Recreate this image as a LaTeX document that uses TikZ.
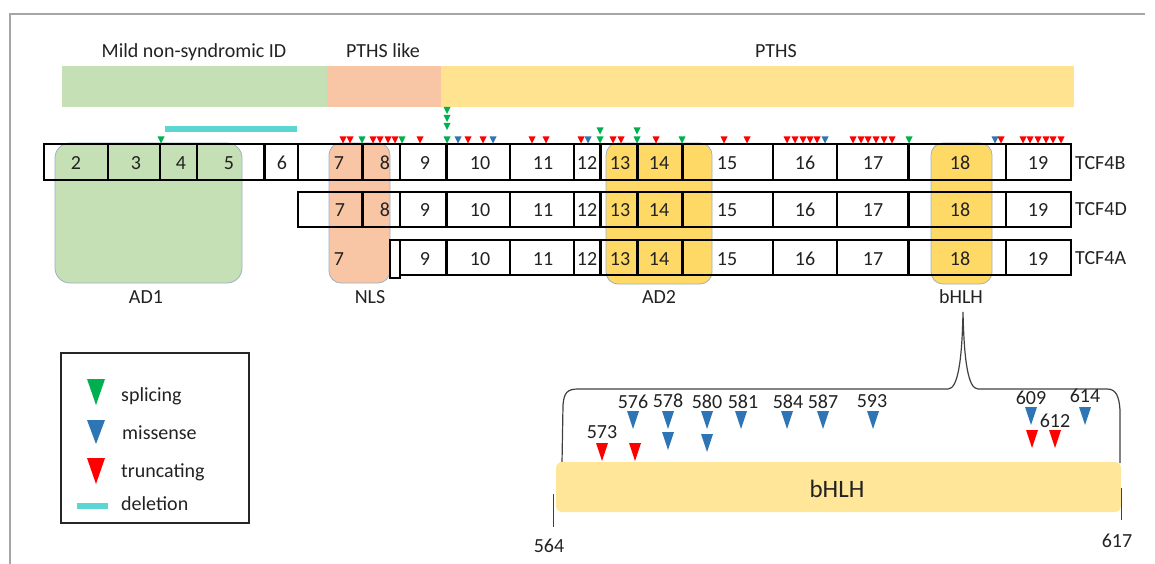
\documentclass[tikz,border=0pt]{standalone}
\usepackage{fontspec}
\setmainfont{Carlito}
\definecolor{txt}{HTML}{222222}
\definecolor{bargreen}{HTML}{C5E0B4}
\definecolor{barsalmon}{HTML}{F8C6A5}
\definecolor{baryellow}{HTML}{FFE391}
\definecolor{domgold}{HTML}{FFD966}
\definecolor{domborder}{HTML}{9DB0C4}
\definecolor{hlhbar}{HTML}{FFE699}
\definecolor{delcyan}{HTML}{5CD6D3}
\definecolor{mkred}{HTML}{FF0000}
\definecolor{mkblue}{HTML}{2E75B6}
\definecolor{mkgreen}{HTML}{00B050}
\definecolor{framecol}{HTML}{A6A6A6}
\definecolor{bracecol}{HTML}{404040}
\tikzset{
  lbl/.style={font=\fontsize{20}{24}\selectfont, inner sep=0pt, anchor=base, text=txt},
  lblw/.style={lbl, anchor=base west},
  exonline/.style={line width=1.4pt, draw=black},
  thickdiv/.style={line width=3pt, draw=black},
  dombox/.style={rounded corners=12pt, draw=domborder, line width=0.8pt},
}
\newcommand\smk[3]{\fill[#3] ({#1-3.5},{#2-7}) -- ({#1+3.5},{#2-7}) -- (#1,#2) -- cycle;}
\newcommand\bmk[3]{\fill[#3] ({#1-6},{#2-18}) -- ({#1+6},{#2-18}) -- (#1,#2) -- cycle;}
\begin{document}
\begin{tikzpicture}[x=1pt,y=-1pt]
\useasboundingbox (0,0) rectangle (1155,564);
% frame
\draw[framecol, line width=1.5pt] (10,564) -- (10,14) -- (1145,14);
% top phenotype bars
\fill[bargreen] (62,66) rectangle (327,107);
\fill[barsalmon] (327,66) rectangle (441,107);
\fill[baryellow] (441,66) rectangle (1074,107);
\node[lbl] (mild) at (194,58) {Mild non-syndromic ID};
\node[lbl] (pthslike) at (383,58) {PTHS like};
\node[lbl] (pths) at (776,58) {PTHS};
% deletion
\fill[delcyan] (165,126) rectangle (297,132);
% domains
\draw[dombox, fill=bargreen, rounded corners=15pt] (55,143) rectangle (242,283);
\draw[dombox, fill=barsalmon] (329,143) rectangle (390,283);
\draw[dombox, fill=domgold] (606,143) rectangle (712,284);
\draw[dombox, fill=domgold] (931,143) rectangle (992,284);
\node[lbl] (ad1) at (146,303) {AD1};
\node[lbl] (nls) at (370,303) {NLS};
\node[lbl] (ad2) at (659,303) {AD2};
\node[lbl] (bhlhd) at (961,303) {bHLH};
% row TCF4B
\draw[exonline] (44,144) rectangle (1071,180);
\foreach \x in {108,160,197,298,400,510,574,773,837,1006} \draw[exonline] (\x,144) -- (\x,180);
\foreach \x in {264,362,446,600,637,682,908} \draw[thickdiv] (\x,144) -- (\x,180);
% row TCF4D
\draw[exonline] (298,192) rectangle (1071,227);
\foreach \x in {400,510,574,773,837,1006} \draw[exonline] (\x,192) -- (\x,227);
\foreach \x in {362,446,600,637,682,908} \draw[thickdiv] (\x,192) -- (\x,227);
% row TCF4A
\draw[exonline] (390,240) rectangle (400,278);
\draw[exonline] (400,240) rectangle (1071,275);
\foreach \x in {510,574,773,837,1006} \draw[exonline] (\x,240) -- (\x,275);
\foreach \x in {446,600,637,682,908} \draw[thickdiv] (\x,240) -- (\x,275);
% exon numbers
\foreach \n/\x in {2/76,3/136,4/181,5/229,6/282,7/339,8/385,9/425,10/480,11/543,12/587,13/620,14/659,15/727,16/805,17/873,18/960,19/1038}
  \node[lbl] (eb\n) at (\x,170) {\n};
\foreach \n/\x in {7/340,8/385,9/425,10/480,11/543,12/587,13/620,14/659,15/727,16/805,17/873,18/960,19/1038}
  \node[lbl] (ed\n) at (\x,216) {\n};
\foreach \n/\x in {7/339,9/425,10/480,11/543,12/587,13/620,14/659,15/727,16/805,17/873,18/960,19/1038}
  \node[lbl] (ea\n) at (\x,265) {\n};
\node[lblw] (tcfb) at (1075,170) {TCF4B};
\node[lblw] (tcfd) at (1075,215) {TCF4D};
\node[lblw] (tcfa) at (1075,264) {TCF4A};
% small markers
\foreach \x in {343,350,373,380,388,395,420,468,483,532,546,581,613,621,656,724,747,787,795,803,810,817,853,861,868,876,884,892,1001,1023,1030,1038,1046,1053,1061}
  {\smk{\x}{143.5}{mkred}}
\foreach \x in {458,493,588,825,995} {\smk{\x}{143.5}{mkblue}}
\foreach \x in {161,362,402,447,600,637,682,909} {\smk{\x}{143.5}{mkgreen}}
\foreach \y in {114,122,130} {\smk{447}{\y}{mkgreen}}
\smk{600}{134.5}{mkgreen}
\smk{637}{134.5}{mkgreen}
% legend
\draw[line width=1.5pt, draw=black!85] (61,353) rectangle (249,523);
\fill[mkgreen] (87,379) -- (105,379) -- (96,405) -- cycle;
\fill[mkblue] (87,420) -- (105,420) -- (96,444) -- cycle;
\fill[mkred] (87,458) -- (105,458) -- (96,484) -- cycle;
\fill[delcyan] (77,503) rectangle (108,509);
\node[lblw] (lsp) at (121,401) {splicing};
\node[lblw] (lmi) at (122,439) {missense};
\node[lblw] (ltr) at (121,477) {truncating};
\node[lblw] (lde) at (121,510) {deletion};
% brace
\draw[bracecol, line width=1.2pt] (562,463) -- (563,405) .. controls (564,393) and (567,389) .. (578,389)
  -- (948,389) .. controls (958,389) and (962,360) .. (963,312)
  .. controls (964,360) and (968,389) .. (978,389)
  -- (1107,389) .. controls (1116,389) and (1119,396) .. (1120,410) -- (1120,463);
% bHLH bar
\fill[hlhbar, rounded corners=6pt] (556,462) rectangle (1121,512);
\node[lbl, font=\fontsize{25}{30}\selectfont] (bhlhbar) at (837,497) {bHLH};
\coordinate (t564a) at (553,494);
\coordinate (t564b) at (553,527);
\coordinate (t617a) at (1121,488);
\coordinate (t617b) at (1121,520);
\draw[bracecol, line width=1pt] (t564a) -- (t564b);
\draw[bracecol, line width=1pt] (t617a) -- (t617b);
\node[lbl] (n564) at (549,552) {564};
\node[lbl] (n617) at (1117,547) {617};
% big markers
\foreach \x in {633,668,707,741,787,823,873} {\bmk{\x}{429}{mkblue}}
\bmk{668}{450}{mkblue}
\bmk{707}{452}{mkblue}
\bmk{602}{461}{mkred}
\bmk{635}{461}{mkred}
\bmk{1031}{425}{mkblue}
\bmk{1085}{425}{mkblue}
\bmk{1032}{448}{mkred}
\bmk{1055}{448}{mkred}
\node[lbl] (p573) at (602,438) {573};
\node[lbl] (p576) at (633,408) {576};
\node[lbl] (p578) at (668,407) {578};
\node[lbl] (p580) at (707,408) {580};
\node[lbl] (p581) at (743,408) {581};
\node[lbl] (p584) at (788,408) {584};
\node[lbl] (p587) at (823,408) {587};
\node[lbl] (p593) at (872,407) {593};
\node[lbl] (p609) at (1031,404) {609};
\node[lbl] (p612) at (1055,427) {612};
\node[lbl] (p614) at (1085,402) {614};
\end{tikzpicture}
\end{document}
